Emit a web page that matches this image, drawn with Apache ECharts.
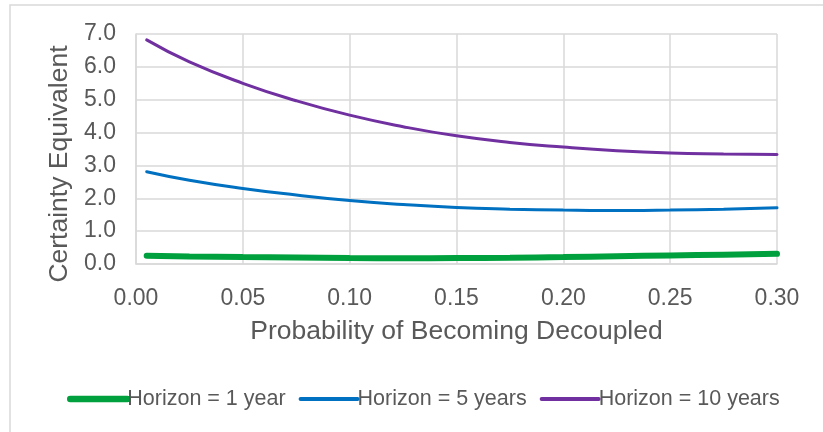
<!DOCTYPE html>
<html>
<head>
<meta charset="utf-8">
<script src="https://cdn.jsdelivr.net/npm/echarts@6/dist/echarts.min.js"></script>
<style>html,body{margin:0;padding:0;background:#fff}#c{width:823px;height:432px}</style>
</head>
<body>
<div id="c"></div>
<script>
const probs = [0.005, 0.025, 0.05, 0.075, 0.10, 0.125, 0.15, 0.175, 0.20, 0.225, 0.25, 0.275, 0.30];
const horizon1 = [0.25, 0.23, 0.21, 0.195, 0.18, 0.175, 0.18, 0.19, 0.21, 0.235, 0.26, 0.285, 0.31];
const horizon5 = [2.81, 2.55, 2.30, 2.10, 1.93, 1.81, 1.72, 1.67, 1.64, 1.63, 1.64, 1.67, 1.71];
const horizon10 = [6.82, 6.15, 5.50, 4.97, 4.53, 4.18, 3.90, 3.70, 3.56, 3.45, 3.38, 3.35, 3.33];
const seriesNames = ['Horizon = 1 year', 'Horizon = 5 years', 'Horizon = 10 years'];
const xTitle = 'Probability of Becoming Decoupled';
const yTitle = 'Certainty Equivalent';

const pair = (ys) => probs.map((x, i) => [x, ys[i]]);
const txt = '#595959';
const grid = '#d9d9d9';
const font = 'Liberation Sans, Arial, sans-serif';
const colors = ['#00A03E', '#0070C0', '#7030A0'];
const widths = [6, 3, 3];
const legendWidths = [6.5, 4, 4];

const chart = echarts.init(document.getElementById('c'), null, {renderer: 'canvas'});
chart.setOption({
  animation: false,
  backgroundColor: '#fff',
  graphic: [{
    type: 'rect', shape: {x: 10, y: 5, width: 830, height: 440},
    style: {fill: 'none', stroke: grid, lineWidth: 1.5}, silent: true
  }],
  grid: {left: 136, right: 46, top: 34, bottom: 168, containLabel: false},
  xAxis: {
    type: 'value', min: 0, max: 0.3, interval: 0.05,
    name: xTitle, nameLocation: 'middle', nameGap: 54,
    nameTextStyle: {color: txt, fontSize: 26.5, fontFamily: font},
    axisLine: {show: true, lineStyle: {color: grid, width: 1.5}},
    axisTick: {show: false},
    splitLine: {show: true, lineStyle: {color: grid, width: 1.5}},
    axisLabel: {color: txt, fontSize: 23, fontFamily: font, margin: 23,
      formatter: v => v.toFixed(2)}
  },
  yAxis: {
    type: 'value', min: 0, max: 7, interval: 1,
    name: yTitle, nameLocation: 'middle', nameGap: 63, nameRotate: 90,
    nameTextStyle: {color: txt, fontSize: 26.5, fontFamily: font, padding: [0, 30, 0, 0]},
    axisLine: {show: true, lineStyle: {color: grid, width: 1.5}},
    axisTick: {show: false},
    splitLine: {show: true, lineStyle: {color: grid, width: 1.5}},
    axisLabel: {color: txt, fontSize: 23, fontFamily: font, margin: 20,
      formatter: v => v.toFixed(1)}
  },
  legend: {
    left: 62, top: 383, itemWidth: 57, itemHeight: 14, itemGap: 13,
    textStyle: {color: txt, fontSize: 21.5, fontFamily: font, padding: [0, 0, 0, -5]},
    data: seriesNames.map((n, i) => ({
      name: n,
      itemStyle: {opacity: 0},
      lineStyle: {width: legendWidths[i], color: colors[i], cap: 'round'}
    }))
  },
  series: seriesNames.map((n, i) => ({
    name: n, type: 'line', smooth: true, showSymbol: false, symbol: 'none',
    data: pair([horizon1, horizon5, horizon10][i]),
    lineStyle: {color: colors[i], width: widths[i], cap: 'round'},
    itemStyle: {color: colors[i]}
  }))
});
</script>
</body>
</html>
